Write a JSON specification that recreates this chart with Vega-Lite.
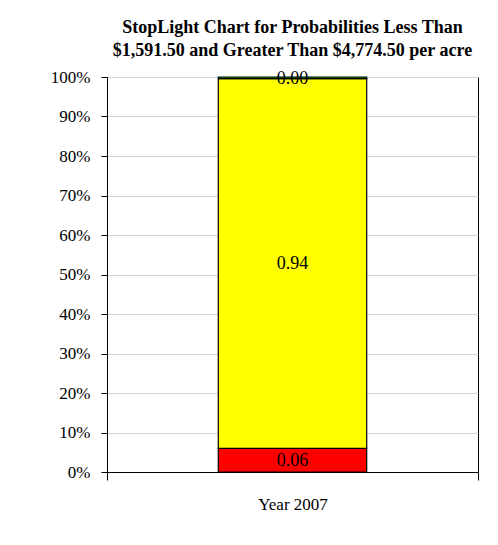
{
  "$schema": "https://vega.github.io/schema/vega-lite/v6.json",
  "width": 371,
  "height": 395,
  "autosize": {"type": "none"},
  "padding": {"left": 107, "top": 77, "right": 20, "bottom": 73},
  "background": "white",
  "config": {
    "font": "Liberation Serif",
    "view": {"stroke": "#000000", "strokeWidth": 1}
  },
  "title": {
    "text": ["StopLight Chart for Probabilities Less Than", "$1,591.50 and Greater Than $4,774.50 per acre"],
    "font": "Liberation Serif",
    "fontSize": 18,
    "fontWeight": "bold",
    "color": "#000000",
    "lineHeight": 23,
    "offset": 8,
    "anchor": "middle"
  },
  "data": {
    "values": [
      {"period": "Year 2007", "zone": "Red", "seq": 1, "prob": 0.06},
      {"period": "Year 2007", "zone": "Yellow", "seq": 2, "prob": 0.936},
      {"period": "Year 2007", "zone": "Green", "seq": 3, "prob": 0.004}
    ]
  },
  "encoding": {
    "x": {
      "field": "period",
      "type": "nominal",
      "title": null,
      "scale": {"paddingInner": 0, "paddingOuter": 0},
      "axis": {
        "labelAngle": 0,
        "labelFont": "Liberation Serif",
        "labelFontSize": 17,
        "labelColor": "#000000",
        "domainColor": "#000000",
        "tickColor": "#000000",
        "tickSize": 8,
        "tickBand": "extent",
        "labelPadding": 16
      }
    },
    "y": {
      "field": "prob",
      "type": "quantitative",
      "stack": "zero",
      "title": null,
      "scale": {"domain": [0, 1], "nice": false},
      "axis": {
        "format": ".0%",
        "values": [0, 0.1, 0.2, 0.3, 0.4, 0.5, 0.6, 0.7, 0.8, 0.9, 1],
        "labelFont": "Liberation Serif",
        "labelFontSize": 17,
        "labelColor": "#000000",
        "domainColor": "#000000",
        "tickColor": "#000000",
        "tickSize": 6,
        "labelPadding": 11,
        "gridColor": "#d4d4d4",
        "grid": true
      }
    },
    "order": {"field": "seq", "type": "quantitative"}
  },
  "layer": [
    {
      "mark": {"type": "bar", "stroke": "#000000", "strokeWidth": 1.2, "width": {"band": 0.4}},
      "encoding": {
        "color": {
          "field": "zone",
          "type": "nominal",
          "legend": null,
          "scale": {"domain": ["Red", "Yellow", "Green"], "range": ["#ff0000", "#ffff00", "#00a000"]}
        }
      }
    },
    {
      "mark": {"type": "text", "font": "Liberation Serif", "fontSize": 18, "color": "#000000", "baseline": "middle", "dy": 1},
      "encoding": {
        "y": {"field": "prob", "type": "quantitative", "stack": "zero", "bandPosition": 0.5},
        "text": {"field": "prob", "type": "quantitative", "format": ".2f"}
      }
    }
  ]
}
